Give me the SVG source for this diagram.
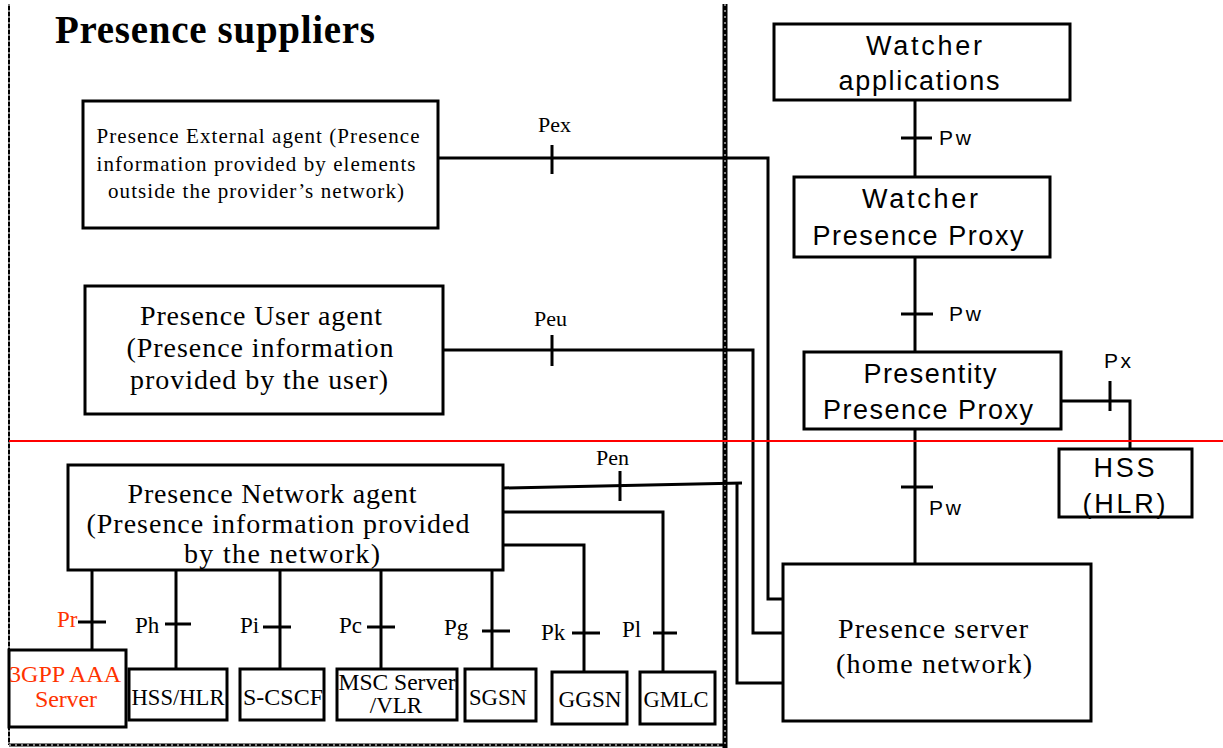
<svg xmlns="http://www.w3.org/2000/svg" width="1223" height="748" viewBox="0 0 1223 748">
<style>
.box{fill:#fff;stroke:#000;stroke-width:3}
.ln{fill:none;stroke:#000;stroke-width:3}
.sf{font-family:"Liberation Serif","Times New Roman",serif;fill:#000}
.ss{font-family:"Liberation Sans",Arial,sans-serif;fill:#000}
.c{text-anchor:middle}
.red{fill:#ff3300}
</style>
<rect x="0" y="0" width="1223" height="748" fill="#fff"/>
<g id="borders">
<line x1="9" y1="4" x2="9" y2="745" stroke="#000" stroke-width="2"/>
<line x1="9" y1="4" x2="9" y2="745" stroke="#fff" stroke-width="1" stroke-dasharray="2,4"/>
<line x1="9" y1="745" x2="725" y2="745" stroke="#000" stroke-width="3"/>
<line x1="9" y1="745" x2="725" y2="745" stroke="#fff" stroke-width="1" stroke-dasharray="2,4"/>
<line x1="725" y1="4" x2="725" y2="748" stroke="#000" stroke-width="5"/>
<line x1="725" y1="4" x2="725" y2="748" stroke="#fff" stroke-width="1" stroke-dasharray="2,4"/>
</g>
<text id="title" class="sf" x="55" y="43" font-size="39" font-weight="bold" textLength="320" lengthAdjust="spacing">Presence suppliers</text>
<g id="connectors">
<polyline class="ln" points="438,158 768,158 768,599 783,599"/>
<line class="ln" x1="552" y1="145" x2="552" y2="174"/>
<polyline class="ln" points="443,350 753,350 753,633 783,633"/>
<line class="ln" x1="552" y1="335" x2="552" y2="366"/>
<polyline class="ln" points="503,488 742,483"/>
<polyline class="ln" points="737,484 737,683 788,683"/>
<line class="ln" x1="620" y1="471" x2="620" y2="501"/>
<polyline class="ln" points="503,512 663,512 663,672"/>
<line class="ln" x1="653" y1="633" x2="677" y2="633"/>
<polyline class="ln" points="503,545 584,545 584,672"/>
<line class="ln" x1="572" y1="633" x2="600" y2="633"/>
<line class="ln" x1="492" y1="570" x2="492" y2="669"/>
<line class="ln" x1="482" y1="631" x2="510" y2="631"/>
<line class="ln" x1="381" y1="570" x2="381" y2="669"/>
<line class="ln" x1="367" y1="627" x2="395" y2="627"/>
<line class="ln" x1="280" y1="570" x2="280" y2="669"/>
<line class="ln" x1="263" y1="627" x2="291" y2="627"/>
<line class="ln" x1="176" y1="570" x2="176" y2="669"/>
<line class="ln" x1="165" y1="624" x2="191" y2="624"/>
<line class="ln" x1="92" y1="568" x2="92" y2="650"/>
<line class="ln" x1="78" y1="622" x2="106" y2="622"/>
<line class="ln" x1="915" y1="100" x2="915" y2="177"/>
<line class="ln" x1="901" y1="138" x2="932" y2="138"/>
<line class="ln" x1="915" y1="257" x2="915" y2="352"/>
<line class="ln" x1="901" y1="314" x2="933" y2="314"/>
<line class="ln" x1="915" y1="429" x2="915" y2="564"/>
<line class="ln" x1="901" y1="487" x2="933" y2="487"/>
<polyline class="ln" points="1061,401 1130,401 1130,449"/>
<line class="ln" x1="1110" y1="381" x2="1110" y2="411"/>
</g>
<g id="labels">
<text class="sf" x="538" y="132" font-size="22">Pex</text>
<text class="sf" x="534" y="326" font-size="22">Peu</text>
<text class="sf" x="596" y="465" font-size="22">Pen</text>
<text class="sf red" x="57" y="627" font-size="23">Pr</text>
<text class="sf" x="135" y="633" font-size="23">Ph</text>
<text class="sf" x="240" y="633" font-size="23">Pi</text>
<text class="sf" x="339" y="633" font-size="23">Pc</text>
<text class="sf" x="444" y="635" font-size="23">Pg</text>
<text class="sf" x="541" y="640" font-size="23">Pk</text>
<text class="sf" x="622" y="637" font-size="23">Pl</text>
<text class="ss" x="939" y="145" font-size="21" textLength="32" lengthAdjust="spacing">Pw</text>
<text class="ss" x="949" y="321" font-size="21" textLength="32" lengthAdjust="spacing">Pw</text>
<text class="ss" x="929" y="515" font-size="21" textLength="32" lengthAdjust="spacing">Pw</text>
<text class="ss" x="1104" y="368" font-size="21" textLength="27" lengthAdjust="spacing">Px</text>
</g>
<line id="redline" x1="9" y1="441" x2="1223" y2="441" stroke="#ff0000" stroke-width="2"/>
<g id="external-agent">
<rect class="box" x="83" y="101" width="355" height="127"/>
<text class="sf c" x="258" y="143" font-size="21" textLength="323" lengthAdjust="spacing">Presence External agent (Presence</text>
<text class="sf c" x="256" y="171" font-size="21" textLength="319" lengthAdjust="spacing">information provided by elements</text>
<text class="sf c" x="256" y="198" font-size="21" textLength="296" lengthAdjust="spacing">outside the provider’s network)</text>
</g>
<g id="user-agent">
<rect class="box" x="85" y="286" width="358" height="128"/>
<text class="sf c" x="261" y="325" font-size="28" textLength="242" lengthAdjust="spacing">Presence User agent</text>
<text class="sf c" x="260" y="357" font-size="28" textLength="267" lengthAdjust="spacing">(Presence information</text>
<text class="sf c" x="259" y="389" font-size="28" textLength="258" lengthAdjust="spacing">provided by the user)</text>
</g>
<g id="network-agent">
<rect class="box" x="68" y="465" width="435" height="105"/>
<text class="sf c" x="272" y="503" font-size="28" textLength="289" lengthAdjust="spacing">Presence Network agent</text>
<text class="sf c" x="278" y="533" font-size="28" textLength="383" lengthAdjust="spacing">(Presence information provided</text>
<text class="sf c" x="282" y="563" font-size="28" textLength="196" lengthAdjust="spacing">by the network)</text>
</g>
<g id="aaa">
<rect class="box" x="9" y="650" width="117" height="77"/>
<text class="sf c red" x="65" y="682" font-size="24" textLength="112" lengthAdjust="spacing">3GPP AAA</text>
<text class="sf c red" x="66" y="707" font-size="24" textLength="62" lengthAdjust="spacing">Server</text>
</g>
<g id="hsshlr">
<rect class="box" x="129" y="669" width="98" height="51"/>
<text class="sf c" x="178" y="705" font-size="23" textLength="93" lengthAdjust="spacingAndGlyphs">HSS/HLR</text>
</g>
<g id="scscf">
<rect class="box" x="240" y="669" width="84" height="51"/>
<text class="sf c" x="283" y="705" font-size="23" textLength="80" lengthAdjust="spacingAndGlyphs">S-CSCF</text>
</g>
<g id="msc">
<rect class="box" x="337" y="669" width="120" height="51"/>
<text class="sf c" x="397" y="690" font-size="23" textLength="117" lengthAdjust="spacingAndGlyphs">MSC Server</text>
<text class="sf c" x="396" y="713" font-size="23">/VLR</text>
</g>
<g id="sgsn">
<rect class="box" x="465" y="669" width="71" height="52"/>
<text class="sf c" x="498" y="705" font-size="23" textLength="58" lengthAdjust="spacingAndGlyphs">SGSN</text>
</g>
<g id="ggsn">
<rect class="box" x="552" y="672" width="75" height="52"/>
<text class="sf c" x="590" y="707" font-size="23" textLength="63" lengthAdjust="spacingAndGlyphs">GGSN</text>
</g>
<g id="gmlc">
<rect class="box" x="640" y="672" width="75" height="52"/>
<text class="sf c" x="676" y="707" font-size="23" textLength="65" lengthAdjust="spacingAndGlyphs">GMLC</text>
</g>
<g id="watcher-apps">
<rect class="box" x="774" y="24" width="296" height="76"/>
<text class="ss c" x="924" y="55" font-size="27" textLength="116" lengthAdjust="spacing">Watcher</text>
<text class="ss c" x="919" y="90" font-size="27" textLength="161" lengthAdjust="spacing">applications</text>
</g>
<g id="watcher-proxy">
<rect class="box" x="794" y="177" width="256" height="80"/>
<text class="ss c" x="920" y="208" font-size="27" textLength="116" lengthAdjust="spacing">Watcher</text>
<text class="ss c" x="918" y="245" font-size="27" textLength="211" lengthAdjust="spacing">Presence Proxy</text>
</g>
<g id="presentity-proxy">
<rect class="box" x="804" y="352" width="257" height="77"/>
<text class="ss c" x="930" y="383" font-size="27" textLength="133" lengthAdjust="spacing">Presentity</text>
<text class="ss c" x="928" y="419" font-size="27" textLength="210" lengthAdjust="spacing">Presence Proxy</text>
</g>
<g id="hss">
<rect class="box" x="1059" y="449" width="133" height="68"/>
<text class="ss c" x="1124" y="477" font-size="27" textLength="61" lengthAdjust="spacing">HSS</text>
<text class="ss c" x="1124" y="513" font-size="27" textLength="83" lengthAdjust="spacing">(HLR)</text>
</g>
<g id="presence-server">
<rect class="box" x="783" y="564" width="308" height="157"/>
<text class="sf c" x="933" y="638" font-size="28" textLength="190" lengthAdjust="spacing">Presence server</text>
<text class="sf c" x="934" y="673" font-size="28" textLength="196" lengthAdjust="spacing">(home network)</text>
</g>
</svg>
